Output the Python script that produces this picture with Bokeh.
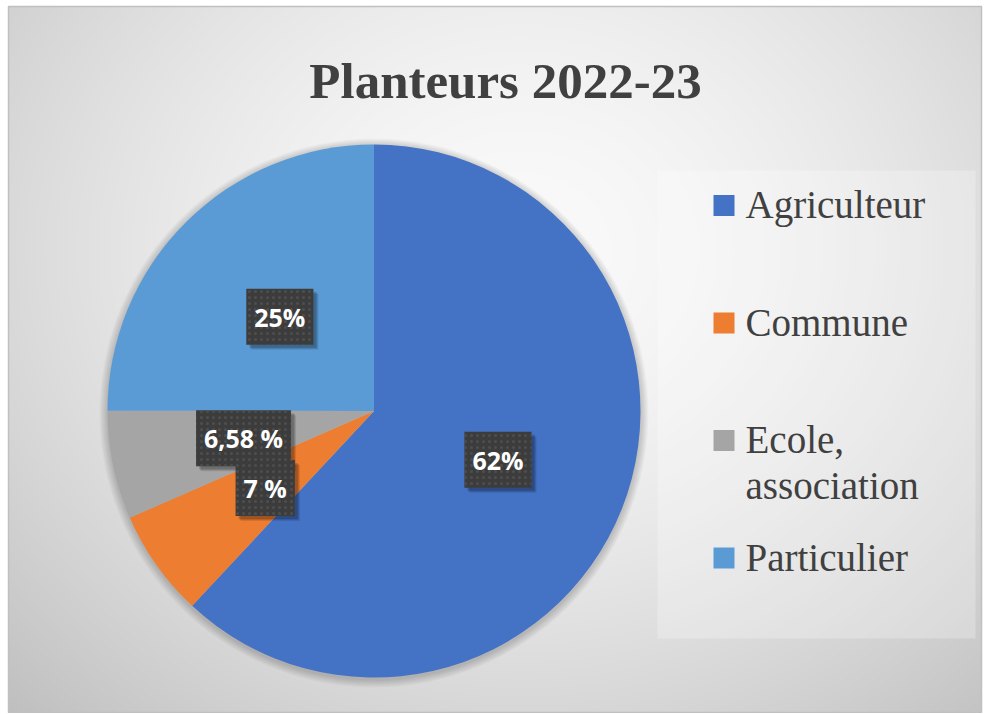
import numpy as np
from bokeh.plotting import figure
from bokeh.models import Range1d, ColumnDataSource
from bokeh.core.properties import value
from bokeh.embed import file_html
from bokeh.resources import INLINE

# ---- data ----
title_text = "Planteurs 2022-23"
categories = ["Agriculteur", "Commune", "Ecole, association", "Particulier"]
values = [62.0, 6.5, 6.58, 25.0]
label_texts = ["62%", "7 %", "6,58 %", "25%"]
colors = ["#4472C4", "#ED7D31", "#A5A5A5", "#5B9BD5"]

SERIF = "'Liberation Serif'"

W, H = 984, 713
p = figure(width=W, height=H, x_range=Range1d(0, W), y_range=Range1d(714 - H, 714),
           output_backend="svg", toolbar_location=None,
           x_axis_location=None, y_axis_location=None, min_border=0)
p.grid.visible = False
p.outline_line_color = None
p.background_fill_color = "white"
p.border_fill_color = "white"

# ---- chart area with radial gradient ----
X0, X1, Y0, Y1 = 8, 981, 2, 708
gh, gw = 353, 486
yy, xx = np.mgrid[0:gh, 0:gw]
fx = X0 + xx * ((X1 - X0) / gw)
fy = Y0 + yy * ((Y1 - Y0) / gh)
cx, cy = 520.0, 464.0
d = np.sqrt(((fx - cx) / 600.0) ** 2 + ((fy - cy) / 520.0) ** 2)
g = np.clip(250 - 42 * d ** 1.6, 0, 255).astype(np.uint32)
img = (np.uint32(255) << 24) | (g << 16) | (g << 8) | g
p.image_rgba(image=[img.astype(np.uint32)], x=X0, y=Y0, dw=X1 - X0, dh=Y1 - Y0)
p.rect(x=(X0 + X1) / 2, y=(Y0 + Y1) / 2, width=X1 - X0, height=Y1 - Y0,
       fill_color=None, line_color="#c0c0c0", line_width=1.5)

# ---- legend panel ----
p.rect(x=816, y=310, width=318, height=468, fill_color="white", fill_alpha=0.25,
       line_color=None)

# ---- pie ----
pcx, pcy, r = 373.5, 303.5, 266.5
vals = np.array(values, dtype=float)
frac = vals / vals.sum()
cum = np.concatenate([[0], np.cumsum(frac)])
start = np.pi / 2 - cum[:-1] * 2 * np.pi
end = np.pi / 2 - cum[1:] * 2 * np.pi
mid = (start + end) / 2

# soft shadow
for k in range(1, 9):
    p.circle(x=pcx, y=pcy - 2, radius=r + k, fill_color="black", fill_alpha=0.025,
             line_color=None)

src = ColumnDataSource(dict(cat=categories, start=start, end=end, color=colors))
p.wedge(x=pcx, y=pcy, radius=r, start_angle="start", end_angle="end",
        direction="clock", fill_color="color", line_color=None, source=src)

# ---- data labels ----
lab = ColumnDataSource(dict(x=pcx + 0.5 * r * np.cos(mid),
                            y=pcy + 0.5 * r * np.sin(mid),
                            text=label_texts))
pad = (8, 11)
for k, a in [(5, 0.10), (4, 0.12), (3, 0.15)]:
    p.text(x="x", y="y", text="text", source=lab, x_offset=k, y_offset=k,
           text_align="center", text_baseline="middle",
           text_font=value("Open Sans"), text_font_style="bold",
           text_font_size="25px", text_alpha=0.0,
           background_fill_color="black", background_fill_alpha=a,
           padding=pad)
p.text(x="x", y="y", text="text", source=lab,
       text_align="center", text_baseline="middle",
       text_font=value("Open Sans"), text_font_style="bold",
       text_font_size="25px", text_color="white",
       background_fill_color="#3c3c3c", background_fill_alpha=1.0,
       background_hatch_pattern="dot", background_hatch_color="#4e4e4e",
       background_hatch_scale=6, background_hatch_weight=1.5,
       padding=pad)

# ---- title ----
p.text(x=[505], y=[634], text=[title_text], text_align="center",
       text_baseline="alphabetic", text_font=value(SERIF),
       text_font_style="bold", text_font_size="51px", text_color="#404040")

# ---- legend ----
n = len(categories)
ly = 509 - 117.5 * np.arange(n)
first = [c.split(", ")[0] + ("," if ", " in c else "") for c in categories]
leg = ColumnDataSource(dict(x=[723.5] * n, y=ly, tx=[745] * n, ty=ly + 1,
                            color=colors, text=first))
p.rect(x="x", y="y", width=21, height=21, fill_color="color", line_color=None,
       source=leg)
p.text(x="tx", y="ty", text="text", source=leg, text_align="left",
       text_baseline="middle", text_font=value(SERIF), text_font_style="normal",
       text_font_size="39px", text_color="#404040")
wrap_idx = [i for i, c in enumerate(categories) if ", " in c]
leg2 = ColumnDataSource(dict(tx=[745] * len(wrap_idx),
                             ty=[ly[i] + 1 - 46 for i in wrap_idx],
                             text=[categories[i].split(", ")[1] for i in wrap_idx]))
p.text(x="tx", y="ty", text="text", source=leg2, text_align="left",
       text_baseline="middle", text_font=value(SERIF), text_font_style="normal",
       text_font_size="39px", text_color="#404040")

open("out.html", "w").write(file_html(p, INLINE))
